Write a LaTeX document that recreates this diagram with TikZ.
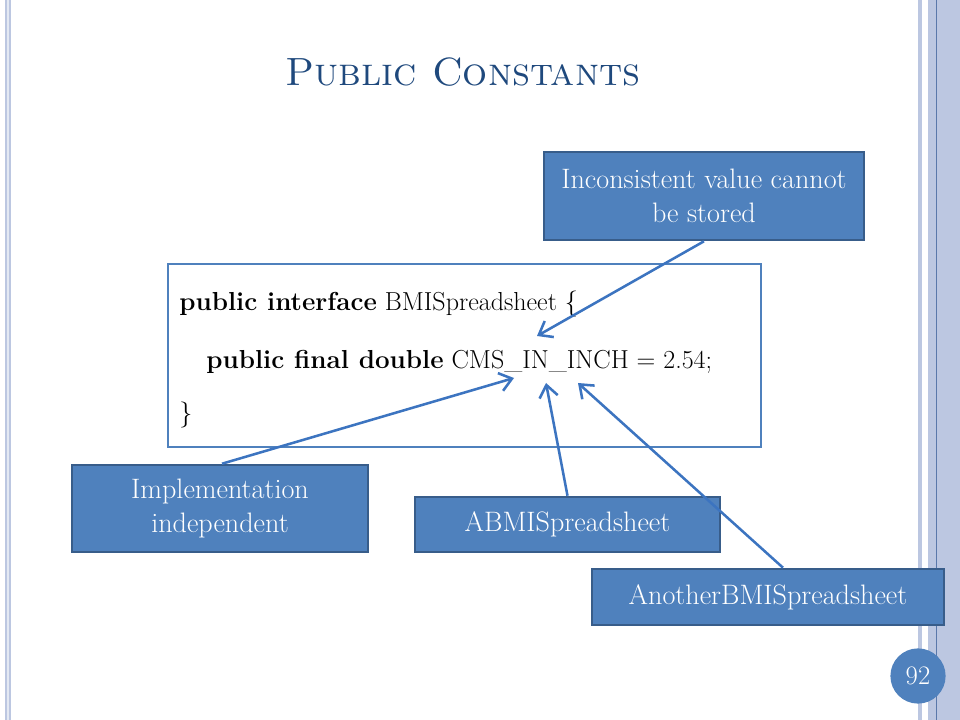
\documentclass[tikz,border=0pt]{standalone}
\usepackage{tikz}
\usetikzlibrary{arrows.meta,calc}

\definecolor{boxblue}{HTML}{4F81BD}
\definecolor{boxedge}{HTML}{385D8A}
\definecolor{tipblue}{HTML}{3C74C0}
\definecolor{titleblue}{HTML}{1F497D}
\definecolor{stripe}{HTML}{BCC7E1}
\definecolor{stripedark}{HTML}{5A78AA}

\tikzset{
  bluebox/.style={draw=boxedge, line width=1.8pt, fill=boxblue, text=white, inner sep=0pt,
    align=center, font=\fontsize{20}{24.5}\selectfont},
  codeline/.style={anchor=base west, inner sep=0pt, font=\fontsize{18.5}{22}\selectfont},
  pointer/.style={draw=tipblue, line width=1.8pt, -{Straight Barb[length=3mm,width=4.6mm]}}
}

\begin{document}
\begin{tikzpicture}[x=0.025cm,y=-0.025cm]
\useasboundingbox (0,0) rectangle (960,720);
% slide frame
\fill[stripe] (5,0) rectangle (11,720);
\fill[white!60!stripe] (7,0) rectangle (9,720);
\fill[stripe] (918,0) rectangle (922,720);
\fill[stripe] (928,0) rectangle (960,720);
\draw[stripedark, line width=0.6pt] (936,0) -- (936,720);
\node[circle, fill=boxblue, minimum size=1.38cm, inner sep=0pt, text=white,
  font=\fontsize{19}{22}\selectfont] (page) at (918,676) {92};
% title
\node[anchor=base, text=titleblue, font=\fontsize{28}{33}\selectfont] (title) at (463,86) {\textsc{Public Constants}};
% code
\node[draw=boxblue, line width=1.8pt, fill=white, minimum width=14.825cm, minimum height=4.575cm] (code) at (464.5,355.5) {};
\node[codeline] (head) at (179,311) {\textbf{public interface} BMISpreadsheet \{};
\node[codeline] (const) at (206,369) {\textbf{public final double} CMS\_IN\_INCH = 2.54;};
\node[codeline] (close) at (179,422) {\}};
% boxes
\node[bluebox, minimum width=8cm, minimum height=2.2cm] (stored) at (704,196) {Inconsistent value cannot\\be stored};
\node[bluebox, minimum width=7.4cm, minimum height=2.175cm] (indep) at (220,508.5) {Implementation\\independent};
\node[bluebox, minimum width=7.625cm, minimum height=1.375cm] (abmi) at (567.5,524.5) {ABMISpreadsheet};
\node[bluebox, minimum width=8.8cm, minimum height=1.4cm] (another) at (768,597) {AnotherBMISpreadsheet};
% arrows
\coordinate (tipstored) at (537,336);
\coordinate (tipindep) at (514,378);
\coordinate (tipabmi) at (546,383);
\coordinate (tipanother) at (578,383);
\draw[pointer] (stored.south) -- (tipstored);
\draw[pointer] ($(indep.north)+(2,0)$) -- (tipindep);
\draw[pointer] (abmi.north) -- (tipabmi);
\draw[pointer] ($(another.north)+(15,0)$) -- (tipanother);
\end{tikzpicture}
\end{document}
